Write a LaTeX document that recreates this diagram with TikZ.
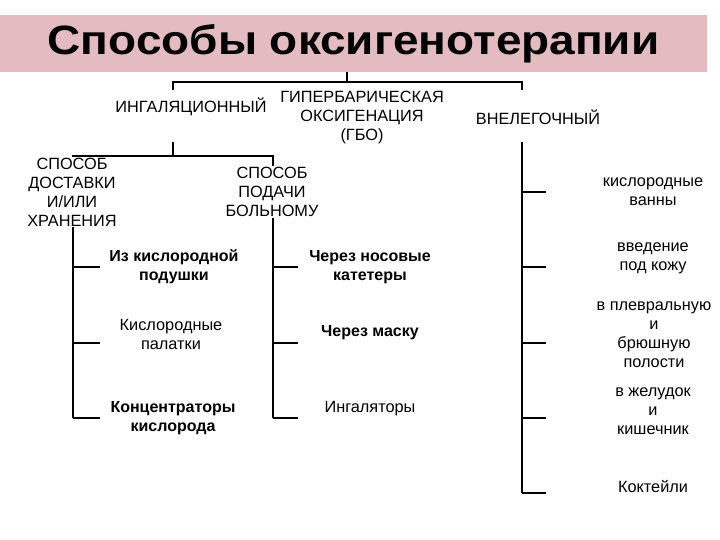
\documentclass[tikz,border=0pt]{standalone}
\usepackage{fontspec}
\setmainfont{Liberation Sans}
\usetikzlibrary{positioning}
\definecolor{bandpink}{RGB}{228,187,193}

\begin{document}
\begin{tikzpicture}[
  x=1pt,y=-1pt,
  ln/.style={line width=2pt},
  band/.style={fill=bandpink,minimum width=707pt,minimum height=57pt,inner sep=0pt},
  txt/.style={fill=white,align=center,inner sep=1pt,
              font=\fontsize{16.3}{19}\selectfont},
  btxt/.style={txt,font=\fontsize{16}{19}\selectfont\bfseries}
]
\useasboundingbox (0,0) rectangle (720,540);
\node[band] (title) at (353.5,43.5)
  {\scalebox{1.12}[1]{\fontsize{41}{46}\selectfont\bfseries Способы оксигенотерапии}};

% top bracket
\coordinate (tc) at (347,82);
\coordinate (bl) at (173,82);
\coordinate (br) at (522,82);
\draw[ln] (title.south -| tc) -- (tc);
\draw[ln] ([yshift=-8pt]bl) -- (bl) -- (br) -- ([yshift=-8pt]br);

\node[txt] (inh) at (191,107) {ИНГАЛЯЦИОННЫЙ};
\node[txt] (hbo) at (362,117) {ГИПЕРБАРИЧЕСКАЯ\\ОКСИГЕНАЦИЯ\\(ГБО)};
\node[txt] (extra) at (538,117) {ВНЕЛЕГОЧНЫЙ};

% inhalation branches
\coordinate (il) at (73,156);
\coordinate (ir) at (273,156);
\draw[ln] (173,142) -- (173,156);
\draw[ln] (73,418) -- (il) -- (ir) -- (273,418);
\foreach \y in {267,343,418} {
  \draw[ln] (73,\y) -- ++(27,0);
  \draw[ln] (273,\y) -- ++(25,0);
}

% extrapulmonary branch
\draw[ln] (522,142) -- (522,493);
\foreach \y in {192,267,343,418,493}
  \draw[ln] (522,\y) -- ++(24,0);

\node[txt] (deliv) at (72,192) {СПОСОБ\\ДОСТАВКИ\\И/ИЛИ\\ХРАНЕНИЯ};
\node[txt] (supply) at (272,192) {СПОСОБ\\ПОДАЧИ\\БОЛЬНОМУ};

\node[btxt] (pillow) at (174,267) {Из кислородной\\подушки};
\node[txt] (tents) at (171,334) {Кислородные\\палатки};
\node[btxt] (conc) at (173,418) {Концентраторы\\кислорода};

\node[btxt] (nasal) at (370,267) {Через носовые\\катетеры};
\node[btxt] (mask) at (370,333) {Через маску};
\node[txt] (inhal) at (370,409) {Ингаляторы};

\node[txt] (bath) at (653,192) {кислородные\\ванны};
\node[txt] (subcut) at (653,258) {введение\\под кожу};
\node[txt] (pleura) at (654,335) {в плевральную\\и\\брюшную\\полости};
\node[txt] (gut) at (653,411) {в желудок\\и\\кишечник};
\node[txt] (cocktail) at (653,487) {Коктейли};
\end{tikzpicture}
\end{document}
